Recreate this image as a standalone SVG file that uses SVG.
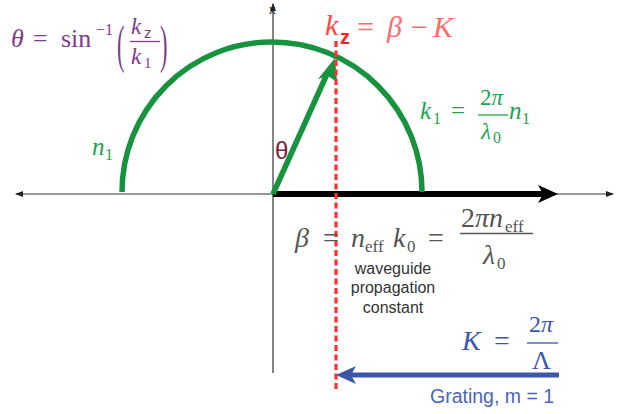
<svg xmlns="http://www.w3.org/2000/svg" width="619" height="414" viewBox="0 0 619 414">
<style>
.m{font-family:"Liberation Serif","DejaVu Serif",serif;font-style:italic}
.r{font-family:"Liberation Serif","DejaVu Serif",serif;font-style:normal}
.s{font-family:"Liberation Sans",Arial,sans-serif}
.ax{stroke:#333;stroke-width:1.2;fill:none}
</style>
<defs>
<marker id="ta" markerWidth="8" markerHeight="6" refX="7" refY="3" orient="auto" markerUnits="userSpaceOnUse"><path d="M0,0 L8,3 L0,6 z" fill="#222"/></marker>
</defs>
<rect width="619" height="414" fill="#fff"/>
<g id="connectors">
<line class="ax" x1="273" y1="373" x2="273" y2="4" marker-end="url(#ta)"/>
<line class="ax" x1="273" y1="194" x2="613" y2="194" marker-end="url(#ta)"/>
<line class="ax" x1="273" y1="194" x2="16" y2="194" marker-end="url(#ta)"/>
<line x1="273" y1="194" x2="545" y2="194" stroke="#000" stroke-width="6"/>
<path d="M558,194 L538,185 L543,194 L538,203 z" fill="#000"/>
<path d="M122,192 A150,150 0 0 1 422,192" fill="none" stroke="#17923e" stroke-width="5.5"/>
<line x1="273" y1="194" x2="327" y2="74" stroke="#17923e" stroke-width="5.5"/>
<path d="M335,58 L337,82 L328,76 L318,79 z" fill="#17923e"/>
<line x1="336" y1="41" x2="336" y2="392" stroke="#ff3030" stroke-width="3.2" stroke-dasharray="6,3.5"/>
<line x1="559" y1="375" x2="350" y2="375" stroke="#3b57a8" stroke-width="5"/>
<path d="M336,375 L356,366 L351,375 L356,384 z" fill="#3b57a8"/>
</g>
<g id="axis-label"><text x="269" y="14" class="s" font-size="13" fill="#222">x</text></g>
<g id="theta-eq" fill="#7d3c8c">
<text x="11" y="47" class="m" font-size="26">θ</text>
<text x="33" y="47" class="r" font-size="26">=</text>
<text x="61" y="47" class="r" font-size="26">sin</text>
<text x="96" y="35" class="r" font-size="16">−1</text>
<text transform="translate(117,62) scale(0.75,1.75)" class="r" font-size="30">(</text>
<text x="131" y="34" class="m" font-size="23">k</text>
<text x="144" y="38" class="s" font-size="15">z</text>
<line x1="130" y1="41.5" x2="160" y2="41.5" stroke="#7d3c8c" stroke-width="1.3"/>
<text x="131" y="64" class="m" font-size="23">k</text>
<text x="144" y="68" class="r" font-size="15">1</text>
<text transform="translate(160,62) scale(0.75,1.75)" class="r" font-size="30">)</text>
</g>
<g id="kz-eq">
<text x="325" y="35" class="m" font-size="30" fill="#ff4545">k</text>
<text x="340" y="44" class="s" font-size="20" font-weight="bold" fill="#ff2020">z</text>
<text x="357" y="37" class="r" font-size="30" fill="#ff6a6a">=</text>
<text x="387" y="37" class="m" font-size="30" fill="#ff6a6a">β</text>
<text x="411" y="37" class="r" font-size="30" fill="#ff6a6a">−</text>
<text x="433" y="37" class="m" font-size="30" fill="#ff6a6a">K</text>
</g>
<g id="k1-eq" fill="#1aa64b">
<text x="420" y="119" class="m" font-size="25">k</text>
<text x="433" y="124" class="r" font-size="16">1</text>
<text x="451" y="119" class="r" font-size="25">=</text>
<text x="480" y="105" class="r" font-size="23">2<tspan class="m">π</tspan></text>
<line x1="478" y1="115" x2="508" y2="115" stroke="#1aa64b" stroke-width="1.3"/>
<text x="481" y="139" class="m" font-size="23">λ</text>
<text x="493" y="143" class="r" font-size="16">0</text>
<text x="509" y="119" class="m" font-size="25">n</text>
<text x="522" y="124" class="r" font-size="16">1</text>
</g>
<g id="n1-label" fill="#1aa64b">
<text x="92" y="155" class="m" font-size="25">n</text>
<text x="105" y="160" class="r" font-size="16">1</text>
</g>
<g id="theta-label"><text x="275" y="159" class="s" font-size="24" fill="#7a1f3d">θ</text></g>
<g id="beta-eq" fill="#555">
<text x="295" y="247" class="m" font-size="28">β</text>
<text x="323" y="247" class="r" font-size="28">=</text>
<text x="351" y="247" class="m" font-size="28">n</text>
<text x="365" y="252" class="r" font-size="17">eff</text>
<text x="393" y="247" class="m" font-size="28">k</text>
<text x="407" y="252" class="r" font-size="17">0</text>
<text x="428" y="247" class="r" font-size="28">=</text>
<text x="461" y="227" class="r" font-size="28">2<tspan class="m">πn</tspan></text>
<text x="505" y="232" class="r" font-size="17">eff</text>
<line x1="460" y1="233.5" x2="533" y2="233.5" stroke="#555" stroke-width="1.4"/>
<text x="483" y="264" class="m" font-size="28">λ</text>
<text x="497" y="269" class="r" font-size="17">0</text>
</g>
<g id="beta-caption" class="s" font-size="16" fill="#333" text-anchor="middle">
<text x="393" y="274">waveguide</text>
<text x="393" y="293">propagation</text>
<text x="393" y="313">constant</text>
</g>
<g id="K-eq" fill="#3b57a8">
<text x="462" y="350" class="m" font-size="28">K</text>
<text x="494" y="350" class="r" font-size="28">=</text>
<text x="529" y="332" class="r" font-size="24">2<tspan class="m">π</tspan></text>
<line x1="527" y1="343" x2="558" y2="343" stroke="#3b57a8" stroke-width="1.3"/>
<text x="532" y="369" class="r" font-size="26">Λ</text>
</g>
<g id="grating-label"><text x="430" y="403" class="s" font-size="19.5" fill="#4a66b8">Grating, m = 1</text></g>
</svg>
